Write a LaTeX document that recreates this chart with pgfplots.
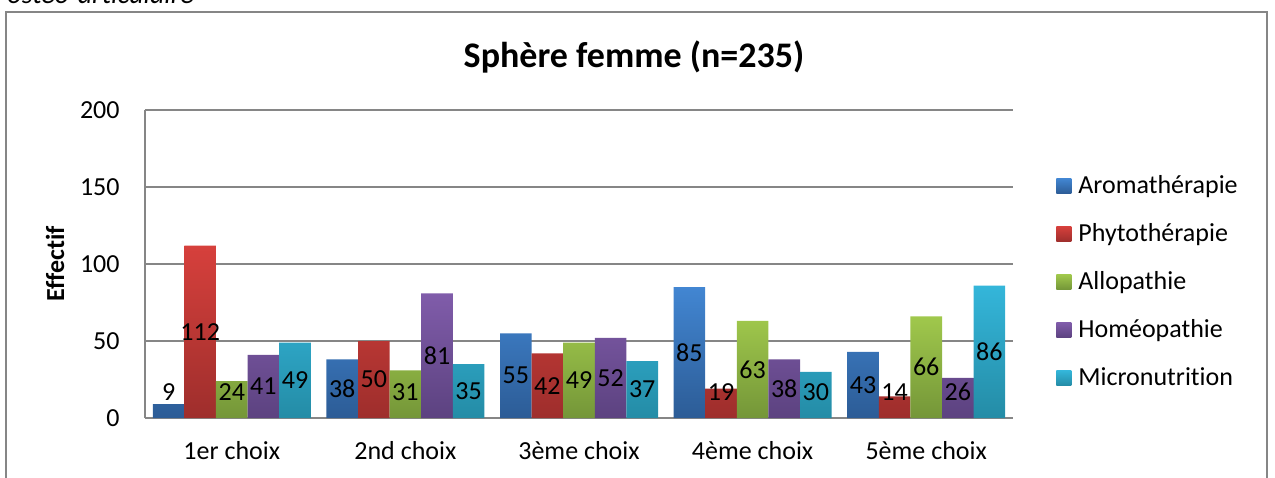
\documentclass[border=0pt]{standalone}
\usepackage{fontspec}
\setmainfont{Carlito}[Ligatures=NoCommon]
\usepackage{pgfplots}
\usepackage{pgfplotstable}
\pgfplotsset{compat=1.18}
\definecolor{gridgray}{RGB}{134,134,134}
\definecolor{aromaT}{RGB}{66,134,210}
\definecolor{aromaB}{RGB}{44,92,150}
\definecolor{phytoT}{RGB}{214,64,60}
\definecolor{phytoB}{RGB}{158,46,44}
\definecolor{alloT}{RGB}{160,200,76}
\definecolor{alloB}{RGB}{116,150,56}
\definecolor{homeoT}{RGB}{128,92,170}
\definecolor{homeoB}{RGB}{92,66,128}
\definecolor{microT}{RGB}{52,182,218}
\definecolor{microB}{RGB}{36,140,166}
\pgfplotstableread{
x arom phyto allo homeo micro
0 9 112 24 41 49
1 38 50 31 81 35
2 55 42 49 52 37
3 85 19 63 38 30
4 43 14 66 26 86
}\choixdata
\begin{document}
\begin{tikzpicture}[x=1pt,y=1pt]
\useasboundingbox (0,0) rectangle (637.5,238.5);
\begin{scope}
\clip (0,0) rectangle (637.5,238.5);
\node[anchor=base west, inner sep=0, font=\fontsize{14}{16}\selectfont\itshape] at (3.5,236.7) {ostéo-articulaire};
\draw[gridgray, line width=1pt] (3,-5) -- (3,232.5) -- (633.5,232.5) -- (633.5,-5);
\end{scope}
\node[font=\fontsize{18}{21}\selectfont\bfseries] at (317,210) {Sphère femme (n=235)};
\node[rotate=90, font=\fontsize{13}{15}\selectfont\bfseries] at (27.5,106.7) {Effectif};
\begin{axis}[
  at={(72.5pt,29.5pt)}, anchor=south west,
  scale only axis, width=434pt, height=154pt,
  ymin=0, ymax=200, xmin=-0.5, xmax=4.5,
  ytick={0,50,...,200}, xtick={0,...,4},
  xticklabels={1er choix,2nd choix,3ème choix,4ème choix,5ème choix},
  ybar=0pt, bar width=15.8pt,
  axis x line*=bottom, axis y line*=left,
  axis line style={-, gridgray, line width=0.75pt},
  ymajorgrids, grid style={gridgray, line width=0.75pt},
  major tick length=0pt,
  /pgf/number format/assume math mode=true,
  ticklabel style={font=\fontsize{13}{15}\selectfont, text=black},
  yticklabel style={anchor=east, inner sep=0pt, xshift=-12.5pt},
  xticklabel style={anchor=base, inner sep=0pt, yshift=-20.5pt},
  visualization depends on={rawy \as \rawy},
  nodes near coords,
  every node near coord/.append style={anchor=center, font=\fontsize{13}{15}\selectfont, text=black, inner sep=0pt,
     yshift={-(\rawy-max(\rawy/2,16.9))*0.77pt}},
  legend image code/.code={\path[#1, draw=none] (0pt,-3.75pt) rectangle (7.5pt,3.75pt);},
  legend cell align=left,
  legend style={at={(1,0.5)}, anchor=west, xshift=21.5pt, yshift=-9pt, draw=none, fill=none,
     font=\fontsize{13}{15}\selectfont, inner sep=0pt, row sep=11pt,
     nodes={inner sep=0pt, text height=10pt, text depth=3pt},
     /tikz/every odd column/.append style={column sep=3.5pt}},
]
\addplot[draw=none, top color=aromaT, bottom color=aromaB] table[x=x,y=arom] {\choixdata};
\addplot[draw=none, top color=phytoT, bottom color=phytoB] table[x=x,y=phyto] {\choixdata};
\addplot[draw=none, top color=alloT, bottom color=alloB] table[x=x,y=allo] {\choixdata};
\addplot[draw=none, top color=homeoT, bottom color=homeoB] table[x=x,y=homeo] {\choixdata};
\addplot[draw=none, top color=microT, bottom color=microB] table[x=x,y=micro] {\choixdata};
\legend{Aromathérapie,Phytothérapie,Allopathie,Homéopathie,Micronutrition}
\end{axis}
\end{tikzpicture}
\end{document}
